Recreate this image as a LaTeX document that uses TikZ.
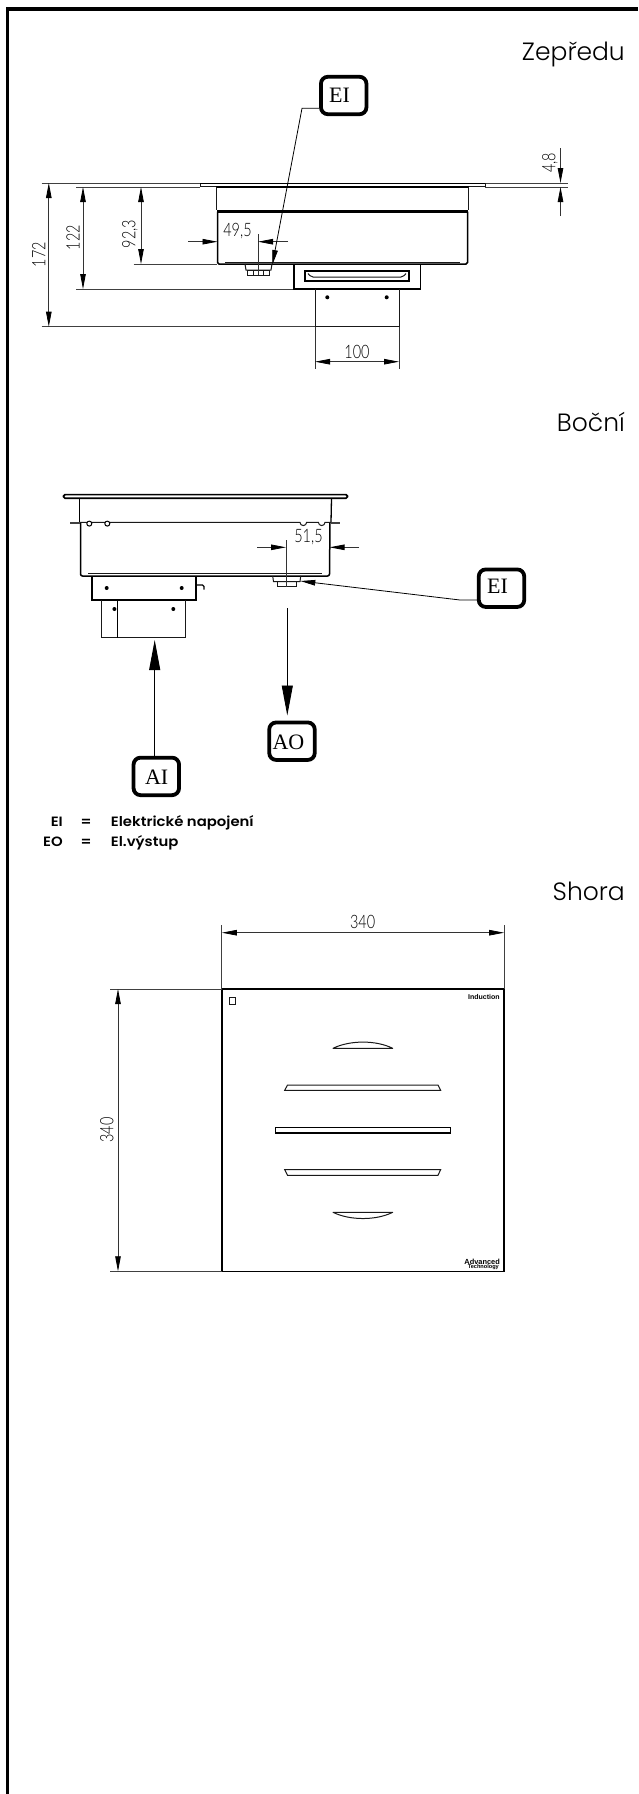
\documentclass[tikz,border=0pt]{standalone}
\usepackage{fontspec}
\usetikzlibrary{arrows.meta,calc}
\setmainfont{Liberation Serif}
\newfontfamily\titlefont{Poppins Light}
\newfontfamily\legendfont[FakeStretch=1.1]{Poppins SemiBold}
\newfontfamily\dimfont[FakeStretch=0.78]{Lato Light}
\newfontfamily\tinyfont{Liberation Sans}
\tikzset{
  ln/.style={line width=1pt,black!90},
  thick ln/.style={line width=1.5pt,black},
  thin ln/.style={line width=0.8pt,black!75},
  dimline/.style={line width=0.8pt,black!80},
  dimarrows/.style={dimline,{Triangle[length=15pt,width=5.5pt,black]}-{Triangle[length=15pt,width=5.5pt,black]}},
  tipend/.style={dimline,-{Triangle[length=15pt,width=5.5pt,black]}},
  bigtip/.style={line width=0.9pt,black,-{Triangle[length=30pt,width=11pt,black]}},
  dimtext/.style={font=\dimfont\fontsize{18.5}{18}\selectfont,inner sep=0pt,black},
  title/.style={font=\titlefont\fontsize{25}{25}\selectfont,inner sep=0pt,anchor=base east},
  legend/.style={font=\legendfont\fontsize{13.5}{14}\selectfont,inner sep=0pt,anchor=base},
  tag/.style={draw=black,line width=3.8pt,rounded corners=7pt,fill=white,minimum width=45.5pt,minimum height=37.5pt,inner sep=0pt},
  tagtext/.style={font=\fontsize{22}{22}\selectfont,inner sep=0pt},
  dot/.style={fill=black,circle,inner sep=0pt,minimum size=4pt},
  ring/.style={draw=black,line width=1pt,circle,inner sep=0pt,minimum size=5pt},
}
\begin{document}
\begin{tikzpicture}[x=1pt,y=-1pt]
\useasboundingbox (0,0) rectangle (638,1794);
\fill[white] (0,0) rectangle (638,1794);
% frame
\draw[line width=3.6pt,black] (7.4,1794) -- (7.4,9.2) -- (638,9.2);
% titles
\node[title] (t1) at (625,60) {Zepředu};
\node[title] (t2) at (625,431) {Boční};
\node[title] (t3) at (625,900) {Shora};

%%% FRONT VIEW
% dimension extension lines
\draw[thin ln] (41.5,183) -- (200,183) (485,183) -- (568,183);
\draw[thin ln] (76,187) -- (200,187) (485,187) -- (568,187);
\draw[thin ln] (133.5,264) -- (217,264);
\draw[thin ln] (76,289) -- (294,289);
\draw[thin ln] (41.5,326.7) -- (315,326.7);
% plate
\draw[ln,fill=white] (200,183) rectangle (485,186.8);
\draw[line width=1.6pt] (200,183.4) -- (485,183.4);
\draw[line width=1.4pt] (216,187) -- (469,187);
% upper box
\draw[ln] (216.5,187) -- (216.5,210) (468.8,187) -- (468.8,210);
\draw[line width=2.2pt] (217,211.5) -- (468,211.5);
% lower box
\draw[thick ln,rounded corners=1.5pt] (217.5,211.5) -- (217.5,264) -- (467.5,264) -- (467.5,211.5);
\draw[ln] (225,262) -- (460,262);
% nut
\draw[ln] (245,264) -- (246,270) -- (271,270) -- (272,264);
\draw[ln] (247,270) rectangle (269,275);
\draw[ln] (253,270) -- (253,275) (263,270) -- (263,275);
% bracket
\draw[thick ln] (294,264) -- (294,289) -- (420.5,289) -- (420.5,264);
\draw[line width=1.8pt] (305,271) rectangle (409,281);
\draw[ln,rounded corners=2pt] (308,273.5) -- (311,277) -- (403,277) -- (406,273.5);
% duct
\draw[ln] (315,289) -- (315,326.7) -- (399,326.7) -- (399,289);
\node[dot] (d1) at (327.3,297.3) {};
\node[dot] (d2) at (386.7,297.3) {};
% dim 49,5
\coordinate (a1) at (258,234); \coordinate (a2) at (258,275);
\draw[dimline] (a1) -- (a2);
\draw[tipend] (188,241.7) -- (217.5,241.7);
\draw[tipend] (288,241.7) -- (258,241.7);
\node[dimtext] (n495) at (237.5,231.5) {49,5};
% dim 100
\draw[dimline] (315,326.7) -- (315,369.3) (399,326.7) -- (399,369.3);
\draw[dimarrows] (315,361.7) -- (399,361.7);
\node[dimtext] (n100) at (357,351.5) {100};
% dim 172 122 92,3
\draw[dimarrows] (48.8,183) -- (48.8,326.7);
\node[dimtext,rotate=90] (n172) at (38.7,254.7) {172};
\draw[dimarrows] (83,187) -- (83,289);
\node[dimtext,rotate=90] (n122) at (73,237.5) {122};
\draw[dimarrows] (141,187) -- (141,264);
\node[dimtext,rotate=90] (n923) at (130,234) {92,3};
% dim 4,8
\draw[tipend] (560.5,148) -- (560.5,183);
\draw[tipend] (560.5,216) -- (560.5,187);
\node[dimtext,rotate=90] (n48) at (550,163) {4,8};
% EI tag
\node[tag] (tag1) at (343.7,95.5) {};
\node[tagtext] at (339.5,95.5) {EI};
\coordinate (k1) at (302,108.3);
\coordinate (e1) at (272.3,265);
\draw[tipend,black] (tag1.west |- k1) -- (k1) -- (e1);

%%% SIDE VIEW
% plate
\draw[line width=1.7pt,rounded corners=1.5pt,fill=white] (63.5,494.6) rectangle (347.5,498.2);
% box
\draw[line width=1.3pt] (79.7,498.7) -- (79.7,522);
\draw[line width=1.3pt] (331.5,498.7) -- (331,522);
\draw[thick ln,rounded corners=2pt] (80.5,522) -- (80.5,576) -- (329.5,576) -- (330,522);
\draw[ln] (88,573.3) -- (322,573.3);
% middle line with fixings
\draw[line width=2.2pt,black!75] (70,522.6) -- (80,522.6) (331,522.6) -- (340,522.6);
\draw[ln] (80,522.3) -- (300,522.3)
  arc[start angle=180,end angle=0,radius=3.3] -- (318.4,522.3)
  arc[start angle=180,end angle=0,radius=3.3] -- (331,522.3);
\node[ring,fill=white] (r1) at (89.3,523.6) {};
\node[ring,fill=white] (r2) at (107.3,523.6) {};
% nut
\draw[ln] (272.7,576) -- (273.5,581.7) -- (300,581.7) -- (300.7,576);
\draw[ln] (277.7,581.7) rectangle (296.7,586.7);
% dim 51,5
\draw[dimline] (286,540) -- (286,586.7);
\draw[tipend] (257,547.3) -- (286,547.3);
\draw[tipend] (359,547.3) -- (329.5,547.3);
\node[dimtext] (n515) at (308.5,537) {51,5};
% bracket
\draw[thick ln] (92,576) -- (92,600) -- (196,600) -- (196,576);
\node[dot] (d3) at (106.7,588) {};
\node[dot] (d4) at (181.7,588) {};
\draw[line width=1.1pt,rounded corners=1.5pt] (196,585) -- (204,585) -- (204,589.5);
% duct
\draw[ln] (101.7,600) -- (101.7,637.7) -- (185.7,637.7) -- (185.7,600);
\draw[line width=1.4pt] (117.7,600) -- (117.7,637.7);
\node[dot] (d5) at (114.4,609) {};
\node[dot] (d6) at (173.3,609) {};
% tags
\node[tag] (tag2) at (501.5,588.2) {};
\node[tagtext] at (497.5,586.5) {EI};
\coordinate (e2) at (300.3,581);
\coordinate (k2) at (460,600);
\draw[tipend,black] (tag2.west |- k2) -- (k2) -- (e2);
\node[tag] (tagAI) at (156.3,776.4) {};
\node[tagtext] at (156.7,777) {AI};
\coordinate (e3) at (154.7,640);
\draw[bigtip] (tagAI.north -| e3) -- (e3);
\node[tag] (tagAO) at (292,741.2) {};
\node[tagtext] at (288.5,742) {AO};
\coordinate (s4) at (287.3,608);
\coordinate (e4) at (287.3,715.5);
\draw[bigtip] (s4) -- (e4);
% legend
\node[legend,anchor=base east] (l1) at (63,826) {EI};
\node[legend] (l2) at (86,826) {=};
\node[legend,anchor=base west] (l3) at (110.7,826) {Elektrické napojení};
\node[legend,anchor=base east] (l4) at (63,846) {EO};
\node[legend] (l5) at (86,846) {=};
\node[legend,anchor=base west] (l6) at (110.7,846) {El.výstup};

%%% TOP VIEW
\draw[line width=1.5pt] (221.8,989) rectangle (504.2,1271.3);
\draw[thin ln] (110.3,989) -- (221.8,989) (110.3,1271.3) -- (221.8,1271.3);
\draw[thin ln] (221.8,925) -- (221.8,989) (504.2,925) -- (504.2,989);
\draw[dimarrows] (221.8,932.7) -- (504.2,932.7);
\node[dimtext] (n340a) at (362.6,922) {340};
\draw[dimarrows] (118,989) -- (118,1271.3);
\node[dimtext,rotate=90] (n340b) at (106.8,1130) {340};
\draw[ln] (229.5,997) rectangle (235,1004.3);
\node[font=\tinyfont\bfseries\fontsize{7}{8}\selectfont,inner sep=0pt,anchor=east] (br1) at (499.8,997) {Induction};
\node[font=\tinyfont\bfseries\fontsize{7.4}{7}\selectfont,inner sep=0pt,anchor=east] (br2) at (500,1261.5) {Advanced};
\node[font=\tinyfont\bfseries\fontsize{5.6}{6}\selectfont,inner sep=0pt,anchor=east] (br3) at (499,1267.5) {Technology};
% slots
\draw[ln,line join=round] (333,1048.3) .. controls (350,1040) and (376,1040) .. (392.7,1048.3) -- cycle;
\draw[ln] (284.7,1090.3) -- (287.5,1085) -- (438,1085) -- (440.6,1090.3) -- cycle;
\draw[line width=1.1pt] (275.2,1127.7) rectangle (450.7,1133);
\draw[ln] (284.7,1169.7) -- (287.5,1175.3) -- (438,1175.3) -- (440.6,1169.7) -- cycle;
\draw[ln,line join=round] (333,1212.3) .. controls (350,1220.6) and (376,1220.6) .. (392.7,1212.3) -- cycle;
\end{tikzpicture}
\end{document}
